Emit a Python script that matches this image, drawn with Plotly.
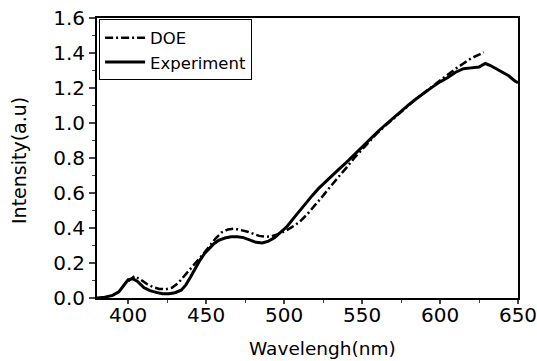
import plotly.graph_objects as go

exp_x = [380, 385, 390, 394, 397, 400, 403, 406, 410, 414, 418, 422, 426, 430, 434, 437, 440, 443, 446, 449,
         452, 455, 458, 462, 466, 470, 474, 478, 482, 486, 490, 494, 498, 502, 506, 510, 514, 518, 522, 526,
         530, 535, 540, 545, 550, 555, 560, 565, 570, 575, 580, 585, 590, 595, 600, 605, 610, 615, 620, 625,
         629, 632, 636, 640, 644, 648, 650]
exp_y = [0.0, 0.005, 0.015, 0.035, 0.07, 0.105, 0.11, 0.095, 0.06, 0.042, 0.032, 0.025, 0.025, 0.03, 0.045,
         0.075, 0.12, 0.17, 0.215, 0.255, 0.285, 0.31, 0.33, 0.343, 0.35, 0.35, 0.345, 0.33, 0.318, 0.315,
         0.325, 0.345, 0.375, 0.41, 0.455, 0.5, 0.545, 0.585, 0.625, 0.66, 0.69, 0.735, 0.775, 0.82, 0.865,
         0.905, 0.95, 0.99, 1.03, 1.07, 1.105, 1.14, 1.175, 1.205, 1.235, 1.26, 1.29, 1.31, 1.315, 1.32,
         1.34, 1.33, 1.31, 1.29, 1.27, 1.24, 1.23]

doe_x = [400, 404, 408, 412, 416, 420, 424, 428, 432, 436, 440, 444, 448, 452, 456, 460, 464, 468, 472, 476,
         480, 484, 488, 492, 496, 500, 505, 510, 515, 520, 525, 530, 535, 540, 545, 550, 555, 560, 565, 570,
         575, 580, 585, 590, 595, 600, 605, 610, 615, 620, 625, 628]
doe_y = [0.095, 0.125, 0.105, 0.08, 0.062, 0.052, 0.05, 0.058, 0.085, 0.125, 0.168, 0.21, 0.25, 0.295, 0.34,
         0.375, 0.392, 0.397, 0.39, 0.38, 0.368, 0.355, 0.35, 0.352, 0.365, 0.38, 0.405, 0.435, 0.48, 0.53,
         0.585, 0.64, 0.69, 0.745, 0.8, 0.85, 0.9, 0.945, 0.985, 1.025, 1.065, 1.1, 1.14, 1.175, 1.21, 1.24,
         1.275, 1.31, 1.34, 1.37, 1.39, 1.405]

x_ticks = [400, 450, 500, 550, 600, 650]
y_ticks = [0.0, 0.2, 0.4, 0.6, 0.8, 1.0, 1.2, 1.4, 1.6]
x_title = "Wavelengh(nm)"
y_title = "Intensity(a.u)"

FONT = "DejaVu Sans, Arial, sans-serif"

fig = go.Figure()
fig.add_trace(go.Scatter(x=doe_x, y=doe_y, mode="lines", name="DOE",
                         line=dict(color="black", width=2.5, dash="8px,3px,2px,3px")))
fig.add_trace(go.Scatter(x=exp_x, y=exp_y, mode="lines", name="Experiment",
                         line=dict(color="black", width=3)))

fig.update_layout(
    width=537, height=361,
    margin=dict(l=97, r=19, t=18, b=63),
    paper_bgcolor="white", plot_bgcolor="white",
    font=dict(family=FONT, color="black", size=18),
    showlegend=True,
    legend=dict(x=0.005, y=0.995, xanchor="left", yanchor="top",
                bordercolor="black", borderwidth=1, bgcolor="white",
                font=dict(size=16.5), tracegroupgap=0, itemwidth=40),
    xaxis=dict(range=[380, 650], tickvals=x_ticks, ticks="outside", ticklen=4, tickwidth=1.5,
               showline=True, linecolor="black", linewidth=2, mirror=True, showgrid=False,
               zeroline=False, tickfont=dict(size=20), ticklabelstandoff=-6,
               ticklabeloverflow="allow", automargin=False,
               minor=dict(tickvals=[425, 475, 525, 575, 625], ticks="outside", ticklen=3, tickwidth=1)),
    yaxis=dict(range=[0, 1.6], tickvals=y_ticks, tickformat=".1f", ticks="outside", ticklen=6, tickwidth=1.5,
               showline=True, linecolor="black", linewidth=2, mirror=True, showgrid=False,
               zeroline=False, tickfont=dict(size=20), automargin=False,
               minor=dict(dtick=0.1, ticks="outside", ticklen=3, tickwidth=1)),
    annotations=[
        dict(text=x_title, xref="paper", yref="paper", x=(322 - 97) / 421, y=-(348 - 298) / 280,
             xanchor="center", yanchor="middle", showarrow=False, font=dict(size=18.5)),
        dict(text=y_title, xref="paper", yref="paper", x=-(97 - 19) / 421, y=(298 - 161) / 280,
             xanchor="center", yanchor="middle", showarrow=False, textangle=-90, font=dict(size=19)),
    ],
)

fig.write_html("out.html")
